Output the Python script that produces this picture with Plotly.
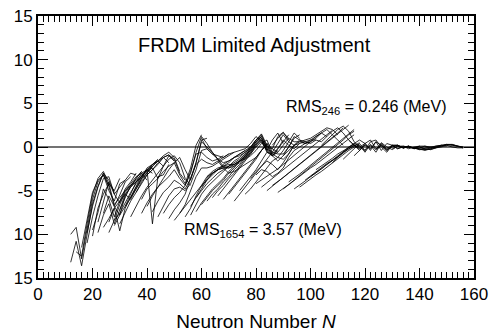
import plotly.graph_objects as go

# Isotopic chains: first neutron number of each chain (values read every 2 neutrons)
chain_start_n = [12, 12, 14, 16, 18, 20, 22, 24, 26, 28, 30, 32, 34, 36, 38, 40, 42, 44,
                 46, 48, 50, 54, 56, 58, 60, 62, 64, 66, 70, 74, 78, 80, 82, 84, 86, 90,
                 94, 96, 100, 100, 104, 108, 112, 116, 120, 126, 130, 136, 138, 140,
                 60, 62, 64, 66,
                 18, 20, 22, 24, 26, 28, 30, 34, 38,
                 52, 56, 58, 60, 62, 68, 72, 76,
                 80, 88, 92, 98, 102, 86, 90,
                 114, 118, 124, 132, 134]
chain_step = 2

# Deviations (MeV) along each chain
chain_dev = [
    [-10.0, -9.2, -12.8, -9.5, -6.0, -4.0, -3.2, -4.5],
    [-13.2, -10.8, -13.6, -10.0, -6.5, -4.5, -3.0, -3.8, -5.2],
    [-12.0, -12.5, -8.8, -5.5, -3.6, -2.8, -4.2, -5.0, -3.6],
    [-11.5, -8.2, -5.2, -3.8, -3.2, -5.0, -6.2, -4.2, -3.8],
    [-9.8, -6.8, -4.6, -3.0, -4.5, -6.8, -5.5, -4.0, -3.4],
    [-9.5, -7.5, -4.8, -6.0, -8.0, -6.2, -4.8, -4.0, -3.0],
    [-9.8, -7.8, -6.5, -8.8, -7.2, -5.4, -4.6, -3.6, -2.8],
    [-9.2, -8.2, -7.0, -9.6, -7.0, -5.8, -4.6, -3.3, -2.6, -3.0],
    [-8.6, -7.0, -6.2, -5.4, -6.0, -4.8, -3.6, -2.4, -2.0, -1.6],
    [-8.4, -6.6, -5.2, -4.4, -4.0, -3.4, -2.8, -2.4, -3.6, -2.2],
    [-7.2, -5.8, -4.4, -3.8, -3.2, -2.6, -8.8, -3.4, -3.2, -2.0],
    [-6.8, -5.4, -4.0, -3.4, -2.6, -2.0, -1.6, -2.2, -1.0, -1.6],
    [-5.8, -4.6, -3.6, -3.0, -2.2, -1.6, -1.0, -0.6, -1.2, -2.8],
    [-5.2, -4.0, -3.2, -2.6, -2.0, -1.2, -0.9, -1.4, -3.0, -3.8],
    [-6.0, -4.8, -4.2, -3.6, -2.8, -2.2, -1.8, -3.2, -4.2, -2.4, 0.2, 1.4],
    [-6.8, -5.6, -4.6, -4.0, -3.4, -2.6, -3.6, -4.4, -3.0, -0.6, 1.2, 0.4],
    [-7.4, -6.2, -5.2, -4.6, -3.8, -4.2, -4.8, -3.6, -1.8, 0.6, 0.0, -0.6],
    [-8.0, -6.8, -5.6, -4.8, -4.6, -5.0, -4.2, -2.6, -0.4, -0.2, -0.8, -1.4],
    [-7.6, -6.6, -5.8, -5.2, -4.4, -2.8, -0.8, -0.6, -1.2, -1.6, -1.4, -1.0],
    [-8.2, -7.2, -6.4, -5.4, -3.6, -2.0, -1.4, -1.8, -2.0, -1.6, -1.2, -0.8],
    [-8.4, -7.6, -6.6, -5.0, -3.4, -2.4, -2.4, -2.2, -1.8, -1.4, -1.0, -0.6],
    [-8.0, -7.0, -5.6, -4.4, -3.4, -3.0, -2.6, -2.2, -1.8, -1.2, -0.8, -0.4],
    [-7.8, -6.6, -5.4, -4.6, -4.0, -3.4, -2.8, -2.2, -1.6, -1.2, -0.6, -0.2],
    [-7.4, -6.4, -5.6, -4.8, -4.2, -3.6, -2.8, -2.2, -1.6, -1.0, -0.2, 0.6, 1.2],
    [-6.6, -5.8, -5.0, -4.4, -3.8, -3.0, -2.4, -1.6, -1.0, -0.2, 0.8, 1.5, 0.2],
    [-6.2, -5.4, -4.8, -4.0, -3.4, -2.6, -2.0, -1.2, -0.4, 0.6, 1.2, -0.2, -0.8],
    [-5.8, -5.0, -4.4, -3.6, -3.0, -2.2, -1.4, -0.6, 0.4, 1.0, -0.4, -1.0, -0.6],
    [-5.6, -4.8, -4.0, -3.2, -2.4, -1.6, -0.8, 0.2, 0.8, -0.6, -0.8, -0.2, 0.6, 1.4],
    [-5.4, -4.6, -3.8, -3.0, -2.2, -1.4, -0.4, 0.4, -0.8, -1.2, -0.4, 0.6, 1.6, 1.0],
    [-5.0, -4.2, -3.4, -2.6, -1.6, -0.6, -1.0, -1.6, -1.0, 0.0, 1.2, 0.8, 0.4, 0.6],
    [-3.6, -2.8, -2.2, -1.6, -2.0, -2.6, -1.8, -0.8, 0.2, 0.4, 0.6, 0.8, 0.8],
    [-3.2, -2.6, -2.8, -3.4, -3.0, -2.4, -1.2, -0.4, 0.0, 0.4, 0.8, 1.2, 1.6],
    [-4.6, -4.1, -3.6, -3.1, -2.6, -2.1, -1.6, -1.1, -0.6, -0.1, 0.4, 0.9, 1.4, 1.9],
    [-5.0, -4.5, -4.0, -3.5, -3.0, -2.5, -2.0, -1.5, -1.0, -0.5, 0.0, 0.5, 1.0, 1.6, 2.2],
    [-4.4, -4.0, -3.5, -3.0, -2.5, -2.0, -1.6, -1.1, -0.6, -0.1, 0.4, 0.9, 1.4, 2.0, 2.5],
    [-4.8, -4.3, -3.8, -3.4, -2.9, -2.4, -2.0, -1.5, -1.0, -0.5, 0.0, 0.4, 0.9, 1.4],
    [-4.8, -4.4, -3.9, -3.4, -3.0, -2.5, -2.0, -1.6, -1.1, -0.6, -0.2, 0.2, 0.5],
    [-4.6, -4.1, -3.7, -3.2, -2.8, -2.3, -1.8, -1.4, -0.9, -0.4, 0.0, 0.2],
    [-3.4, -3.0, -2.5, -2.0, -1.6, -1.1, -0.7, -0.2, 0.2, 0.0, -0.4],
    [0.4, 0.8, 0.6, 1.2, 1.8, 2.2, 1.6, 0.8, 0.2, -0.2],
    [0.2, 0.8, 1.4, 2.0, 2.4, 1.8, 0.6, 0.0, 0.4, -0.2],
    [-1.8, -1.2, -0.6, 0.0, 0.4, 0.8, 0.4, -0.4, 0.6, 0.2],
    [-1.4, -0.8, -0.2, 0.4, -0.4, 0.6, 0.8, 0.0, -0.6, 0.2, 0.2],
    [-1.0, -0.4, 0.2, -0.2, 0.6, -0.4, 0.4, 0.2, -0.2, 0.0, 0.1],
    [-0.4, 0.2, -0.6, 0.4, -0.2, 0.2, -0.2, 0.1, 0.0, -0.1, 0.1],
    [0.3, -0.4, 0.2, 0.2, -0.1, 0.0, -0.2, 0.1, 0.1, -0.1],
    [-0.2, 0.1, -0.1, 0.0, -0.1, -0.3, -0.1, 0.0, 0.1, 0.2, 0.1],
    [0.0, -0.1, -0.2, -0.3, -0.2, 0.0, 0.1, 0.3, 0.2, 0.1, -0.1],
    [-0.1, 0.0, -0.2, -0.3, -0.1, 0.1, 0.3, 0.3, 0.1, 0.0],
    [0.0, -0.2, -0.3, -0.1, 0.0, 0.2, 0.3, 0.1, -0.1],
    [1.0, -0.2, -0.8, -1.0, -1.2, -0.8, -0.6, -0.4, -0.2, 0.4, 1.2, 0.6, -0.4, 0.8, 1.6, 0.4],
    [0.4, -0.6, -1.4, -1.8, -1.6, -1.2, -1.0, -0.6, 0.0, 0.8, 1.4, 0.0, -0.2, 1.2, 1.7, 0.8],
    [-0.6, -1.4, -2.2, -2.4, -2.0, -1.6, -1.4, -1.0, -0.4, 0.4, 0.8, -0.6, 0.4, 1.4, 0.6, 0.2],
    [-1.6, -2.4, -3.0, -2.8, -2.4, -2.0, -1.6, -1.2, -0.4, 0.2, -1.0, -0.2, 0.8, 0.2, -0.2, 0.4],
    [-11.0, -8.0, -5.6, -3.6, -3.4, -5.4, -4.6, -3.8, -3.0, -3.2],
    [-10.2, -7.0, -5.4, -4.2, -6.6, -5.8, -5.0, -4.4, -3.6, -2.8],
    [-8.6, -6.2, -4.0, -5.4, -6.4, -5.0, -4.2, -3.4, -3.0, -3.8],
    [-7.6, -5.6, -6.8, -7.8, -5.6, -4.6, -4.0, -3.0, -2.6, -2.2],
    [-9.8, -8.4, -7.6, -6.4, -5.2, -4.2, -3.4, -2.8, -2.0, -1.4],
    [-9.0, -7.8, -6.8, -5.8, -4.8, -3.8, -3.0, -2.2, -1.6, -1.2, -1.8],
    [-8.8, -7.4, -6.2, -5.2, -4.2, -3.2, -2.6, -1.8, -1.2, -0.9, -1.6],
    [-8.0, -6.8, -5.6, -4.6, -3.8, -3.0, -2.2, -1.4, -1.0, -1.8, -3.6, -4.4],
    [-7.6, -6.4, -5.4, -4.6, -3.6, -2.6, -1.8, -1.2, -2.6, -3.8, -1.8, 0.8, 1.0],
    [-7.6, -6.8, -6.0, -5.2, -4.4, -3.8, -3.2, -2.6, -2.0, -1.6, -1.2, -0.8, -0.4, 0.0],
    [-6.8, -5.8, -5.0, -4.2, -3.6, -3.0, -2.6, -2.2, -1.8, -1.4, -0.8, 0.0, 0.8, 1.2],
    [-5.8, -4.8, -3.8, -3.0, -2.6, -2.4, -2.2, -2.0, -1.6, -1.0, -0.4, 0.4, 1.0, 0.0],
    [-4.6, -3.6, -3.0, -2.6, -2.4, -2.4, -2.2, -1.8, -1.2, -0.6, 0.2, 0.8, -0.2, -0.6],
    [-3.4, -2.8, -2.4, -2.2, -2.0, -2.0, -1.6, -1.2, -0.8, 0.0, 0.6, -0.4, -1.0, -0.4],
    [-6.0, -5.2, -4.4, -3.6, -2.8, -2.0, -1.2, -0.4, 0.4, -0.2, -0.6, 0.2, 1.0],
    [-6.2, -5.4, -4.6, -3.8, -3.0, -2.2, -1.4, -0.6, -0.8, -0.8, 0.0, 1.0, 1.4],
    [-5.4, -4.8, -4.0, -3.2, -2.4, -1.6, -1.2, -1.4, -0.8, 0.2, 0.8, 0.6, 0.4],
    [-4.2, -3.8, -3.4, -3.0, -2.5, -2.0, -1.5, -1.0, -0.5, 0.0, 0.6, 1.2, 1.6, 1.2],
    [-5.2, -4.8, -4.3, -3.8, -3.3, -2.8, -2.3, -1.8, -1.3, -0.8, -0.3, 0.2, 0.8, 1.4, 1.8],
    [-4.0, -3.6, -3.1, -2.6, -2.1, -1.6, -1.1, -0.6, -0.1, 0.4, 0.9, 1.5, 2.0],
    [-3.8, -3.3, -2.9, -2.4, -1.9, -1.5, -1.0, -0.6, -0.1, 0.4, 0.2],
    [-2.6, -2.2, -1.7, -1.3, -0.8, -0.4, 0.0, 0.3, -0.2, 0.2],
    [0.2, 1.0, 1.6, 1.0, 0.6, 0.6, 0.8, 1.0, 1.4, 1.8, 2.2, 2.0, 1.4],
    [-1.0, -0.4, 0.2, 0.6, 0.4, 0.6, 1.0, 1.6, 2.0, 1.4, 0.8, 0.2],
    [0.8, 0.2, -0.4, 0.4, 0.8, -0.2, 0.2, -0.3, 0.0, 0.2, -0.1, 0.1],
    [0.2, -0.6, 0.3, -0.3, 0.5, 0.0, -0.3, 0.1, 0.1, -0.2, 0.0, 0.1],
    [-0.3, 0.2, -0.4, 0.1, 0.2, -0.1, 0.1, -0.2, -0.1, 0.1, 0.0, -0.1],
    [0.1, -0.1, 0.1, -0.1, -0.2, -0.4, -0.2, 0.0, 0.2, 0.2, 0.0, -0.1, -0.1],
    [-0.1, 0.0, -0.1, -0.3, -0.3, -0.1, 0.1, 0.2, 0.3, 0.2, 0.1, 0.0],
]

x_tick_vals = [0, 20, 40, 60, 80, 100, 120, 140, 160]
y_tick_vals = [15, 10, 5, 0, -5, -10, -15]
y_tick_text = ["15", "10", "5", "0", "-5", "10", "15"]

title_text = "FRDM Limited Adjustment"
rms_small = "RMS<sub>246</sub> = 0.246 (MeV)"
rms_large = "RMS<sub>1654</sub> = 3.57 (MeV)"
x_title = "Neutron Number <i>N</i>"

FONT = "Liberation Sans, Arial, Helvetica, sans-serif"

fig = go.Figure()
for start, devs in zip(chain_start_n, chain_dev):
    ns = [start + chain_step * k for k in range(len(devs))]
    fig.add_trace(go.Scatter(x=ns, y=devs, mode="lines",
                             line=dict(color="black", width=0.8),
                             showlegend=False, hoverinfo="skip"))

fig.add_hline(y=0, line=dict(color="#444444", width=1.5), layer="below")

axis_common = dict(
    showgrid=False, zeroline=False, showline=True, linecolor="black", linewidth=2,
    mirror="allticks", ticks="inside", ticklen=10, tickwidth=1.2, tickcolor="black",
    tickfont=dict(family=FONT, size=17, color="black"), automargin=False,
)

fig.update_xaxes(range=[0, 160], tickvals=x_tick_vals,
                 minor=dict(dtick=2, ticks="inside", ticklen=6, tickwidth=1, tickcolor="black"),
                 title=dict(text=x_title, font=dict(family=FONT, size=19, color="black"),
                            standoff=11),
                 **axis_common)
fig.update_yaxes(range=[-15, 15], tickvals=y_tick_vals, ticktext=y_tick_text,
                 minor=dict(dtick=1, ticks="inside", ticklen=6, tickwidth=1, tickcolor="black"),
                 **axis_common)

fig.add_annotation(x=79.6, y=11.7, text=title_text, showarrow=False,
                   xanchor="center", yanchor="middle",
                   font=dict(family=FONT, size=20, color="black"))
fig.add_annotation(x=90.2, y=4.5, text=rms_small, showarrow=False,
                   xanchor="left", yanchor="middle",
                   font=dict(family=FONT, size=16, color="black"))
fig.add_annotation(x=52.8, y=-9.55, text=rms_large, showarrow=False,
                   xanchor="left", yanchor="middle",
                   font=dict(family=FONT, size=16, color="black"))

fig.update_layout(
    width=492, height=335,
    margin=dict(l=38, r=18, t=16, b=57),
    paper_bgcolor="white", plot_bgcolor="white",
    font=dict(family=FONT, color="black"),
)

fig.write_html("out.html")
